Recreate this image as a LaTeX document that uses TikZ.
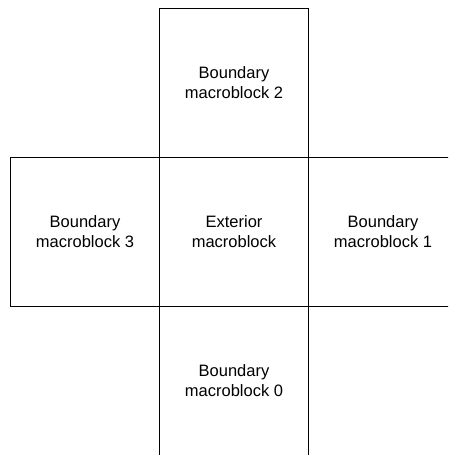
\documentclass[tikz,border=0pt]{standalone}
\usepackage{fontspec}
\setmainfont{Liberation Sans}
\usetikzlibrary{positioning}
\tikzset{
  mblock/.style={rectangle, draw=black, line width=1.1pt, outer sep=0pt,
    minimum width=149pt, minimum height=149pt, align=center,
    font=\fontsize{16.5}{20}\selectfont},
}
\begin{document}
\begin{tikzpicture}[x=1pt, y=1pt, node distance=0pt]
\useasboundingbox (0,0) rectangle (448,-455);
\clip (0,0) rectangle (448,-455);
\node[mblock] (ext) at (234,-232) {Exterior\\macroblock};
\node[mblock, above=of ext] (b2) {Boundary\\macroblock 2};
\node[mblock, left=of ext] (b3) {Boundary\\macroblock 3};
\node[mblock, right=of ext] (b1) {Boundary\\macroblock 1};
\node[mblock, below=of ext] (b0) {Boundary\\macroblock 0};
\end{tikzpicture}
\end{document}
